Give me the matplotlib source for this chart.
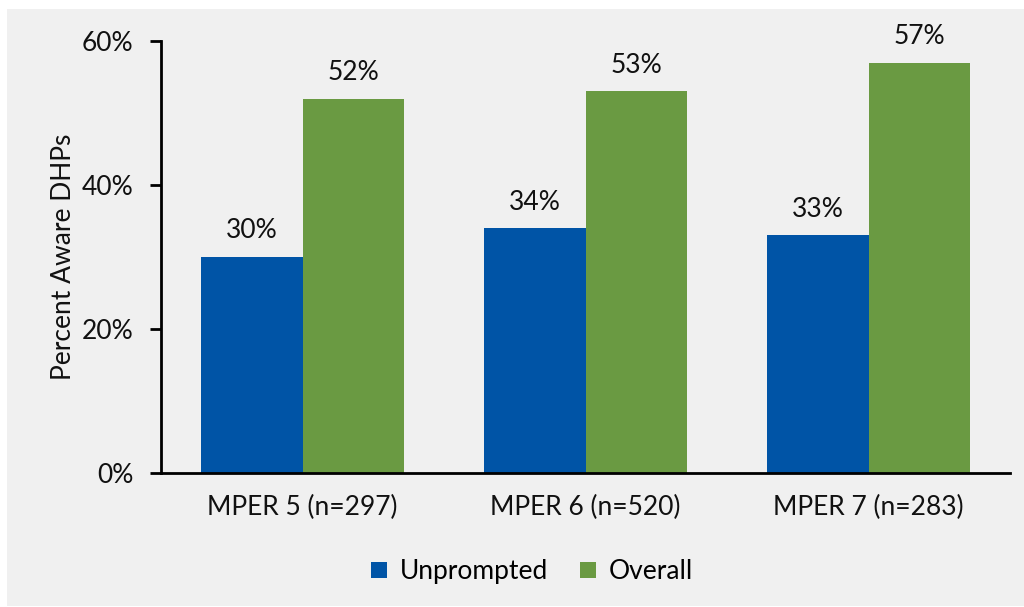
import matplotlib
matplotlib.use("Agg")
import matplotlib.pyplot as plt
import numpy as np
from matplotlib.ticker import FuncFormatter

categories = ["MPER 5 (n=297)", "MPER 6 (n=520)", "MPER 7 (n=283)"]
unprompted = [30, 34, 33]
overall = [52, 53, 57]
series_names = ["Unprompted", "Overall"]
y_ticks = [0, 20, 40, 60]

BLUE = "#0054a6"
GREEN = "#6a9a42"
BG = "#f0f0f0"
FS = 19

plt.rcParams["font.family"] = ["Lato", "DejaVu Sans"]

W, H = 1024, 607
fig = plt.figure(figsize=(W / 100, H / 100), dpi=100, facecolor="white")
# grey panel behind the chart
fig.patches.append(plt.Rectangle((7 / W, 1 / H), 1 - 7 / W, 1 - 10 / H,
                                 transform=fig.transFigure, facecolor=BG,
                                 edgecolor="none", zorder=-10))

ax = fig.add_axes([161 / W, 1 - 473 / H, (1010 - 161) / W, (473 - 41) / H])
ax.patch.set_alpha(0)

x = np.arange(len(categories))
bw = 0.36
b1 = ax.bar(x - bw / 2, unprompted, bw, color=BLUE, label=series_names[0])
b2 = ax.bar(x + bw / 2, overall, bw, color=GREEN, label=series_names[1])

for bars, vals in ((b1, unprompted), (b2, overall)):
    for r, v in zip(bars, vals):
        ax.text(r.get_x() + r.get_width() / 2, v + 1.9, f"{v}%",
                ha="center", va="bottom", fontsize=FS, color="#111111")

ax.set_xlim(-0.5, len(categories) - 0.5)
ax.set_ylim(0, 60)
ax.set_yticks(y_ticks)
ax.yaxis.set_major_formatter(FuncFormatter(lambda v, p: f"{int(v)}%"))
ax.set_xticks(x)
ax.set_xticklabels(categories)
ax.tick_params(axis="x", length=0, pad=16, labelsize=FS, colors="#111111")
ax.tick_params(axis="y", length=8, width=2, pad=12, labelsize=FS,
               labelcolor="#111111")
for s in ("top", "right"):
    ax.spines[s].set_visible(False)
for s in ("left", "bottom"):
    ax.spines[s].set_linewidth(2)
ax.set_ylabel("Percent Aware DHPs", fontsize=FS, labelpad=4, color="#111111")

ax.legend(loc="upper center", bbox_to_anchor=(0.437, -0.145), ncol=2,
          frameon=False, fontsize=FS, handlelength=0.6, handleheight=0.6,
          handletextpad=0.5, columnspacing=1.2)

fig.savefig("out.png", dpi=100, facecolor="white")
